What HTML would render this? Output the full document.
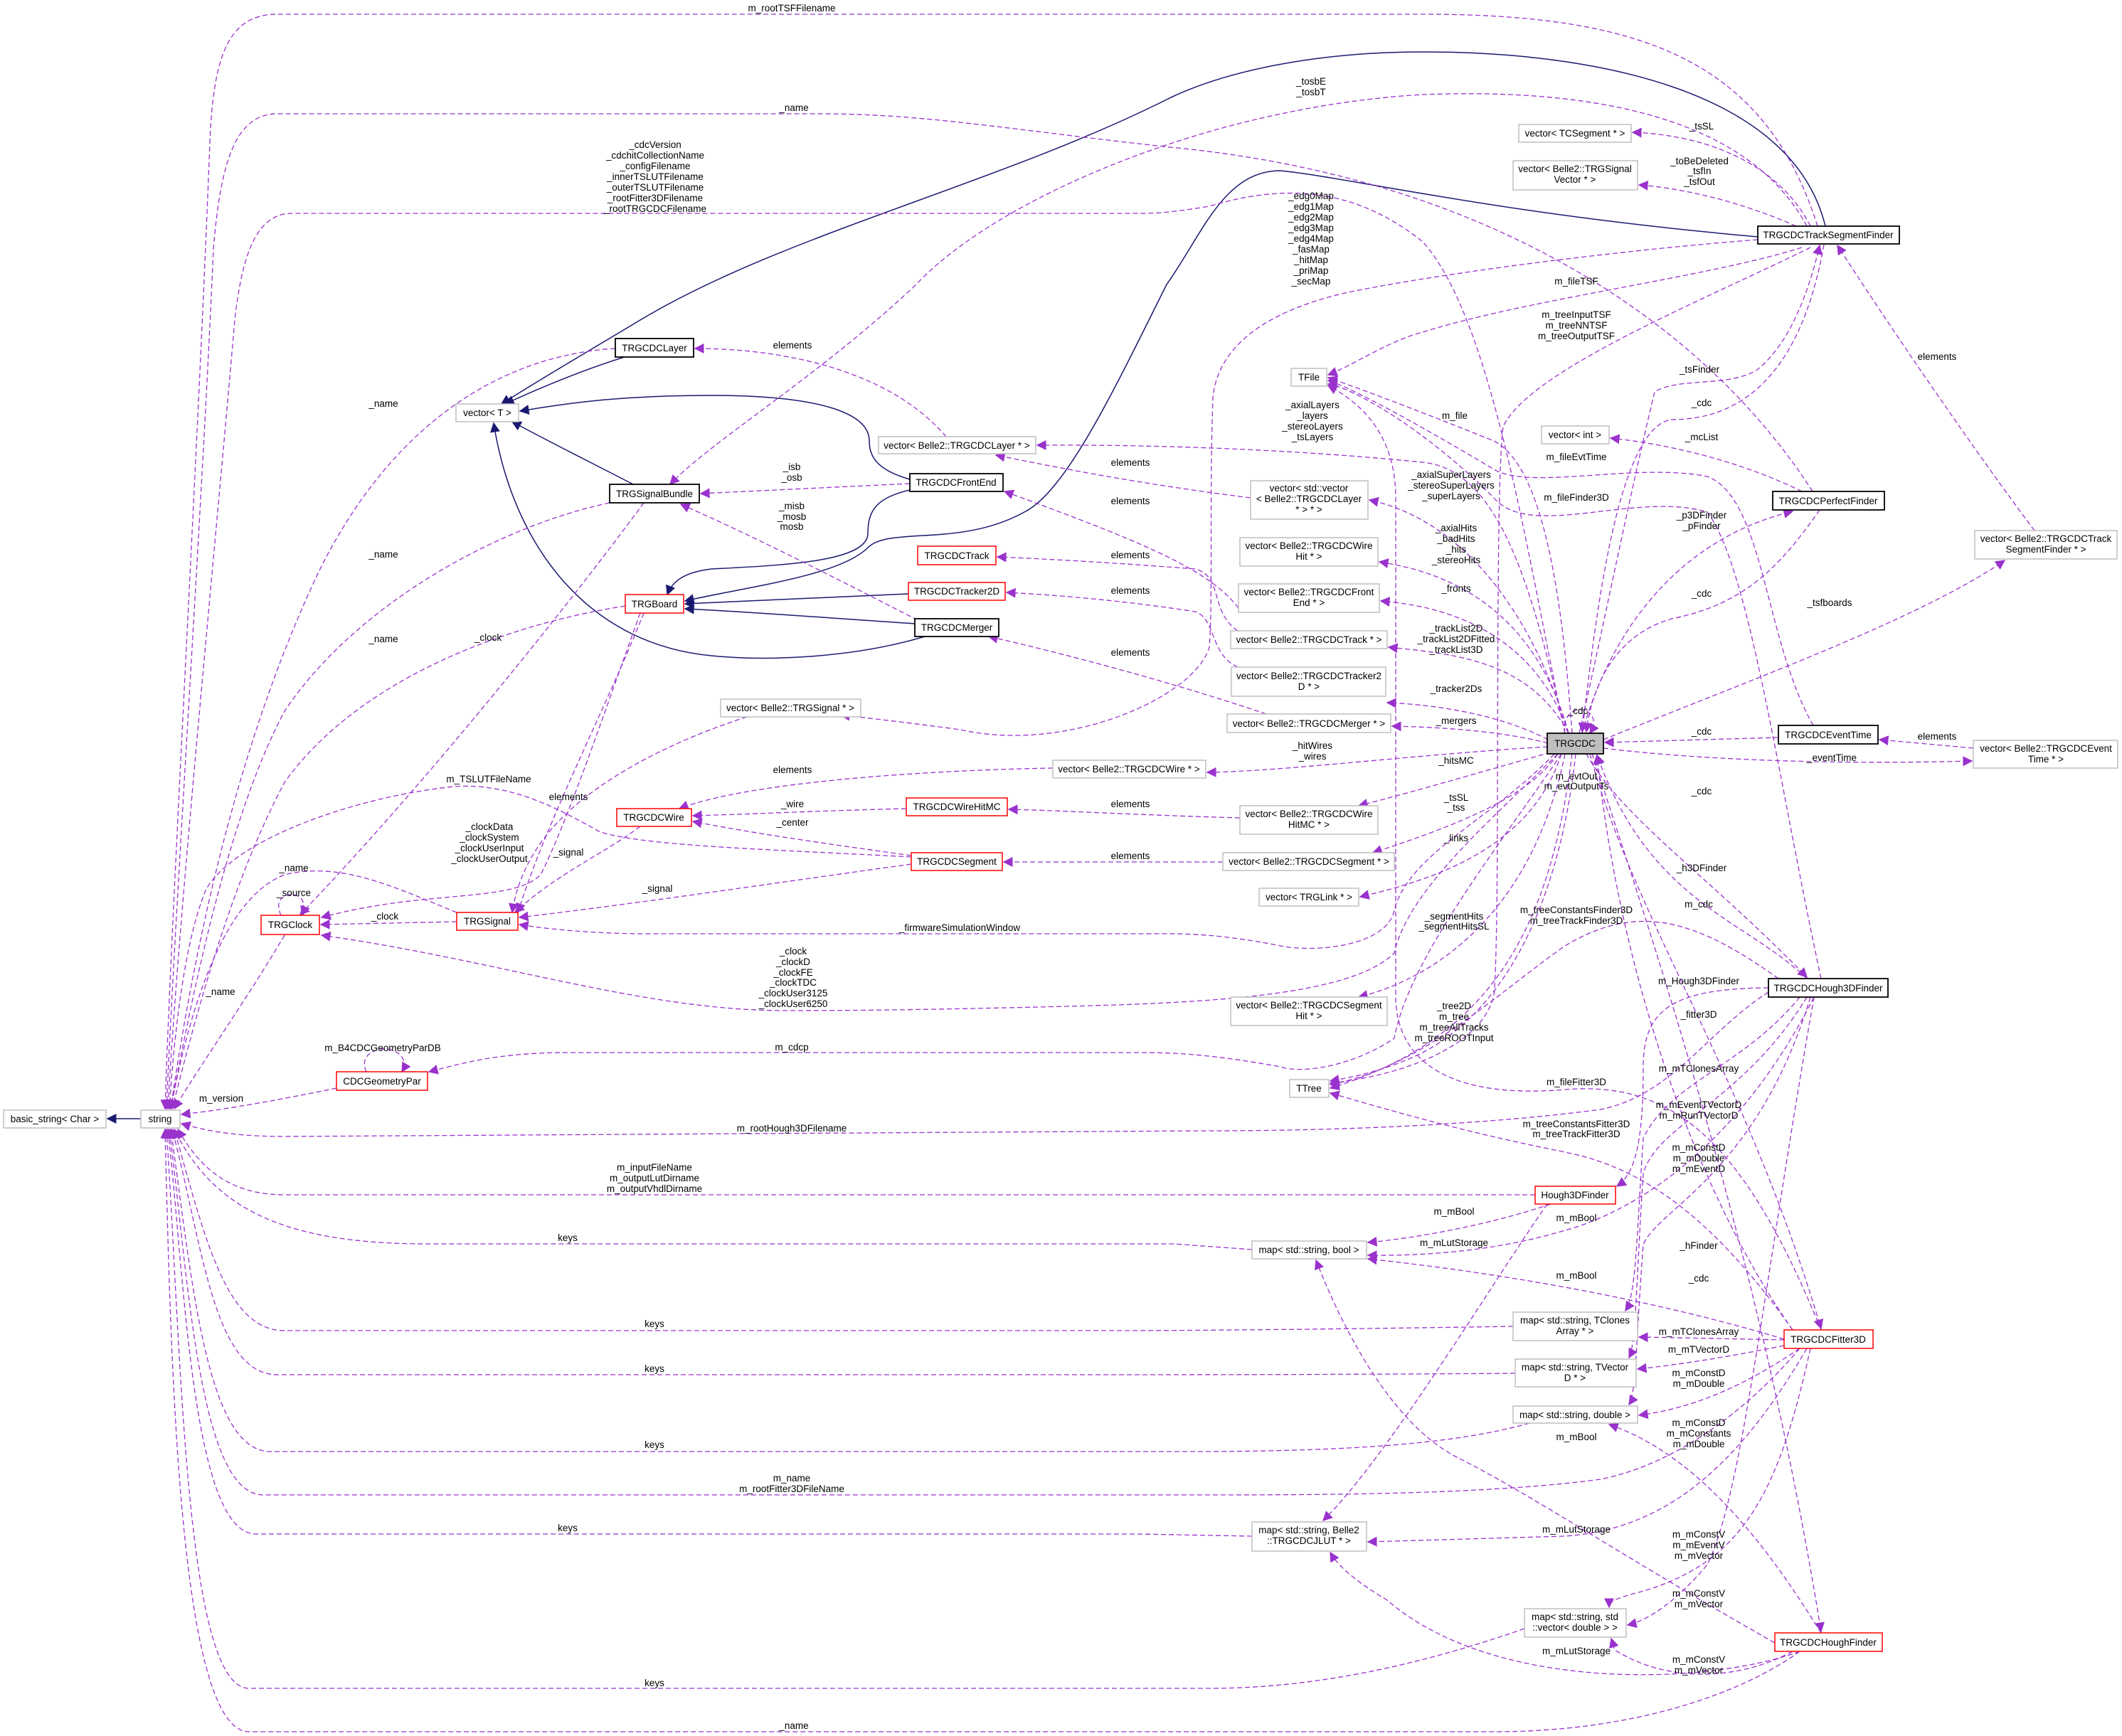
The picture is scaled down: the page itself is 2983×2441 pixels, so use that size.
<!DOCTYPE html>
<html><head><meta charset="utf-8"><style>
html,body{margin:0;padding:0;background:#fff}
svg{display:block}
text{font-family:"Liberation Sans",Arial,sans-serif;font-size:13.5px;fill:#000}
.e{fill:none;stroke:#9a32cd;stroke-width:1.3;stroke-dasharray:7,4}
.n{fill:none;stroke:#191970;stroke-width:1.5}
.g{fill:#fff;stroke:#bfbfbf;stroke-width:1.5}
.b{fill:#fff;stroke:#000;stroke-width:1.8}
.r{fill:#fff;stroke:#ff0000;stroke-width:1.5}
.l{text-anchor:middle}
</style></head><body>
<svg width="2983" height="2441" viewBox="0 0 2983 2441" xmlns="http://www.w3.org/2000/svg">
<defs>
<marker id="ap" viewBox="0 0 10 10" refX="9" refY="5" markerWidth="14" markerHeight="14" markerUnits="userSpaceOnUse" orient="auto"><path d="M0,0L10,5L0,10z" fill="#9a32cd"/></marker>
<marker id="an" viewBox="0 0 10 10" refX="9" refY="5" markerWidth="14" markerHeight="14" markerUnits="userSpaceOnUse" orient="auto"><path d="M0,0L10,5L0,10z" fill="#191970"/></marker>
</defs>

<!-- navy inheritance -->
<g class="n" marker-end="url(#an)">
<path d="M198,1573 L151,1573"/>
<path d="M878,502 C820,520 760,545 710,568"/>
<path d="M890,681 C830,650 770,620 720,593"/>
<path d="M1279,674 C1230,660 1222,640 1222,620 C1222,580 1150,556 1000,556 C850,556 770,572 731,578"/>
<path d="M1300,895 C1200,925 1080,930 1000,922 C820,905 720,760 694,595"/>
<path d="M2566,318 C2520,130 2250,73 2000,73 C1850,73 1720,100 1640,140 C1400,260 1100,330 900,450 C800,510 740,545 705,568"/>
<path d="M1279,689 C1230,700 1220,720 1220,750 C1220,790 1100,795 1000,800 C960,805 945,818 938,836"/>
<path d="M2471,333 C2100,300 1900,250 1800,240 C1720,240 1690,330 1640,400 C1570,540 1500,690 1440,720 C1350,770 1250,740 1220,770 C1180,810 1050,825 963,845"/>
<path d="M1277,835 C1150,840 1050,845 963,849"/>
<path d="M1286,877 C1150,868 1050,860 963,856"/>
</g>

<!-- purple dashed -->
<g class="e" marker-end="url(#ap)">
<path d="M2555,318 C2480,80 2300,20 2000,20 L390,20 C320,20 300,80 295,200 C280,600 240,1300 232,1559"/>
<path d="M2548,691 C2400,460 2100,250 1645,207 C1400,180 1300,160 1150,160 L390,160 C330,160 310,230 300,350 C285,700 245,1300 234,1559"/>
<path d="M2200,1031 C2150,800 2100,450 2000,340 C1900,260 1800,260 1700,290 C1640,300 1620,300 1600,300 L410,300 C360,300 340,360 330,450 C300,800 250,1300 236,1559"/>
<path d="M2540,318 C2450,150 2200,125 2000,133 C1700,150 1400,280 1288,400 C1150,530 1000,620 942,681"/>
<path d="M2471,337 C2300,350 2050,380 1900,410 C1760,440 1710,500 1705,560 C1700,700 1705,850 1700,910 C1680,980 1500,1060 1350,1026 C1270,1015 1220,1010 1182,1005"/>
<path d="M2533,348 C2400,390 2150,420 2000,467 C1950,480 1900,515 1867,527"/>
<path d="M2545,348 C2400,420 2150,520 2113,600 C2100,700 2110,1300 2100,1400 C2080,1480 1950,1515 1870,1523"/>
<path d="M2545,318 C2500,230 2400,190 2295,186"/>
<path d="M2525,318 C2450,285 2370,265 2304,260"/>
<path d="M2220,1031 C2250,900 2290,700 2326,551 C2360,530 2430,545 2470,520 C2520,480 2545,400 2558,345"/>
<path d="M2564,344 C2540,480 2480,590 2350,590 C2270,600 2240,900 2224,1029"/>
<path d="M2860,746 C2780,640 2650,450 2583,345"/>
<path d="M2254,1040 C2450,960 2700,870 2818,788"/>
<path d="M2533,691 C2450,650 2350,625 2264,616"/>
<path d="M2224,1031 C2260,900 2350,760 2520,719"/>
<path d="M2558,717 C2500,800 2450,850 2350,870 C2280,890 2240,950 2230,1029"/>
<path d="M2500,1037 L2256,1044"/>
<path d="M2774,1052 L2642,1040"/>
<path d="M2254,1052 C2400,1070 2600,1075 2772,1070"/>
<path d="M2549,1020 C2480,900 2480,700 2400,670 C2300,650 2150,690 2100,660 C2000,600 1900,545 1867,535"/>
<path d="M2210,1031 C2200,900 2180,660 2100,620 C2050,600 1950,560 1867,531"/>
<path d="M2560,1376 C2500,1100 2460,800 2400,720 C2300,690 2150,760 2100,700 C2000,600 1900,545 1867,540"/>
<path d="M2200,1031 C2150,800 2100,660 2000,650 C1800,630 1600,625 1458,626"/>
<path d="M2205,1031 C2150,850 2050,730 1925,703"/>
<path d="M1758,700 C1600,680 1500,660 1400,640"/>
<path d="M1330,614 C1250,520 1100,490 977,490"/>
<path d="M2205,1031 C2150,830 2000,800 1939,790"/>
<path d="M2205,1031 C2150,870 2000,850 1941,845"/>
<path d="M1741,855 C1700,800 1600,760 1412,691"/>
<path d="M2205,1031 C2150,930 2050,920 1952,910"/>
<path d="M1740,887 C1700,860 1720,810 1680,800 C1550,790 1450,785 1402,783"/>
<path d="M2176,1040 C2100,1000 2000,990 1950,988"/>
<path d="M1740,938 C1700,920 1710,870 1680,860 C1550,840 1450,835 1415,833"/>
<path d="M2176,1045 C2100,1025 2000,1022 1957,1021"/>
<path d="M1780,1004 C1650,960 1500,920 1390,895"/>
<path d="M2176,1050 C2000,1060 1800,1085 1697,1086"/>
<path d="M1480,1080 C1300,1083 1050,1100 955,1137"/>
<path d="M2180,1058 C2100,1080 2000,1110 1910,1133"/>
<path d="M1743,1150 C1600,1146 1500,1140 1418,1138"/>
<path d="M1274,1137 C1150,1140 1050,1145 974,1147"/>
<path d="M1281,1203 C1150,1185 1050,1170 974,1155"/>
<path d="M1719,1212 L1411,1212"/>
<path d="M2190,1060 C2150,1120 2050,1160 1930,1199"/>
<path d="M2195,1060 C2150,1200 2000,1240 1912,1261"/>
<path d="M2200,1060 C2150,1300 2000,1380 1910,1402"/>
<path d="M1281,1215 C1100,1240 900,1270 730,1290"/>
<path d="M900,1162 C850,1200 780,1230 724,1283"/>
<path d="M1050,1008 C950,1040 850,1090 790,1150 C740,1200 725,1250 720,1283"/>
<path d="M905,862 C850,1000 770,1150 728,1283"/>
<path d="M905,707 C800,850 600,1100 422,1286"/>
<path d="M900,862 C850,1000 800,1150 760,1230 C720,1270 600,1250 452,1290"/>
<path d="M642,1296 L451,1300"/>
<path d="M395,1287 C385,1265 400,1258 410,1258 C420,1258 432,1265 425,1287"/>
<path d="M400,1315 C350,1400 280,1500 245,1559"/>
<path d="M642,1283 C560,1250 480,1210 400,1230 C320,1260 270,1400 240,1559"/>
<path d="M1281,1205 C1100,1195 900,1190 842,1169 C790,1140 720,1100 638,1106 C500,1120 330,1180 290,1250 C260,1320 245,1450 238,1559"/>
<path d="M865,490 C700,500 550,600 450,800 C330,1050 270,1350 240,1559"/>
<path d="M857,707 C700,740 500,850 400,1000 C320,1150 270,1400 240,1559"/>
<path d="M879,852 C700,880 500,960 400,1100 C320,1250 270,1450 242,1559"/>
<path d="M2185,1060 C2100,1150 1980,1200 1960,1280 C1950,1330 1850,1340 1800,1330 C1700,1310 1650,1313 1600,1313 L900,1313 C820,1312 760,1305 730,1300"/>
<path d="M2190,1060 C2100,1150 1980,1250 1960,1340 C1900,1400 1700,1410 1500,1415 C1300,1420 1200,1421 1100,1421 C900,1420 700,1350 452,1315"/>
<path d="M2195,1060 C2100,1200 1980,1350 1960,1460 C1900,1500 1830,1510 1800,1500 C1700,1482 1650,1480 1600,1480 L800,1480 C700,1480 650,1495 603,1507"/>
<path d="M515,1507 C505,1485 525,1475 540,1475 C560,1475 575,1490 565,1507"/>
<path d="M473,1530 C400,1545 320,1560 255,1567"/>
<path d="M2486,1395 C2400,1450 2350,1540 2250,1560 C2100,1580 1900,1590 1700,1590 L400,1598 C330,1598 290,1590 255,1580"/>
<path d="M2158,1680 L400,1680 C320,1680 280,1640 250,1588"/>
<path d="M1760,1757 L1650,1749 L600,1749 C400,1749 300,1700 245,1588"/>
<path d="M2127,1865 C2000,1867 1800,1870 1600,1871 L400,1871 C320,1871 290,1750 245,1588"/>
<path d="M2130,1931 C2000,1932 1800,1933 1600,1933 L390,1933 C300,1933 285,1750 242,1588"/>
<path d="M2150,2001 C2050,2030 1900,2040 1700,2041 L380,2041 C290,2041 270,1800 240,1588"/>
<path d="M2530,1896 C2450,1990 2350,2060 2250,2080 C2100,2100 1900,2102 1700,2102 L370,2102 C280,2102 265,1800 238,1588"/>
<path d="M1760,2160 L1600,2157 L360,2157 C270,2157 260,1800 236,1588"/>
<path d="M2143,2290 C2000,2340 1850,2374 1700,2374 L350,2374 C260,2374 255,1900 234,1588"/>
<path d="M2530,2322 C2450,2380 2300,2435 2100,2435 L350,2435 C250,2435 240,1900 232,1588"/>
<path d="M2230,1060 C2280,1150 2400,1230 2540,1374"/>
<path d="M2540,1376 C2450,1290 2320,1270 2245,1062"/>
<path d="M2486,1389 C2350,1390 2310,1420 2310,1500 C2310,1600 2300,1650 2273,1668"/>
<path d="M2235,1060 C2300,1300 2450,1500 2560,1868"/>
<path d="M2530,1402 C2450,1500 2350,1520 2310,1600 C2300,1750 2300,1820 2285,1843"/>
<path d="M2560,1870 C2450,1600 2350,1520 2200,1532 C2050,1545 1962,1500 1962,1400 L1962,700 C1962,600 1900,560 1867,542"/>
<path d="M2540,1402 C2450,1550 2330,1580 2310,1650 C2300,1800 2300,1890 2290,1909"/>
<path d="M2545,1402 C2470,1650 2330,1700 2310,1750 C2300,1880 2300,1960 2290,1975"/>
<path d="M2550,1402 C2450,1600 2310,1700 2200,1730 C2100,1760 2000,1766 1923,1765"/>
<path d="M2180,1693 C2100,1720 2000,1740 1923,1747"/>
<path d="M2175,1693 C2100,1800 1950,2050 1860,2138"/>
<path d="M2238,1060 C2350,1400 2480,1800 2560,2294"/>
<path d="M2508,1883 C2400,1850 2200,1800 1923,1770"/>
<path d="M2520,1870 C2400,1700 2280,1400 2245,1062"/>
<path d="M2508,1884 L2304,1880"/>
<path d="M2508,1892 C2420,1910 2350,1920 2302,1925"/>
<path d="M2530,1896 C2450,1950 2380,1980 2304,1990"/>
<path d="M2495,2310 C2300,2200 2150,2100 2050,2050 C1950,2000 1880,1850 1850,1772"/>
<path d="M2560,2296 C2500,2200 2400,2050 2262,2003"/>
<path d="M2540,1896 C2450,2050 2350,2150 2200,2160 L1923,2168"/>
<path d="M2545,1896 C2500,2100 2450,2200 2300,2240 C2270,2248 2262,2252 2262,2260"/>
<path d="M2550,1402 C2480,1800 2450,2100 2400,2200 C2350,2260 2310,2280 2288,2285"/>
<path d="M2530,2322 C2400,2370 2100,2380 1950,2250 C1900,2220 1880,2200 1870,2183"/>
<path d="M2520,2322 C2450,2360 2350,2370 2270,2320 L2265,2304"/>
<path d="M2500,1376 C2380,1290 2300,1270 2200,1330 C2100,1400 2000,1500 1870,1525"/>
<path d="M2520,1870 C2400,1700 2300,1640 2200,1620 C2050,1590 1950,1560 1870,1537"/>
<path d="M2210,1060 C2180,1300 2100,1460 1870,1530"/>
<path d="M2215,1060 C2200,1200 2150,1400 2000,1480 C1950,1505 1900,1515 1870,1520"/>
<path d="M1279,680 L985,694"/>
<path d="M1290,872 C1150,800 1050,750 957,709"/>
<path d="M2200,1031 C2195,1005 2215,995 2225,998 C2240,1002 2245,1015 2235,1031"/>
</g>

<!-- nodes -->
<g>
<rect class="g" x="5" y="1561" width="144" height="25"/><text class="l" x="77" y="1578">basic_string&lt; Char &gt;</text>
<rect class="g" x="198" y="1561" width="55" height="25"/><text class="l" x="225" y="1578">string</text>
<rect class="g" x="641" y="568" width="88" height="25"/><text class="l" x="685" y="585">vector&lt; T &gt;</text>
<rect class="b" x="865" y="476" width="110" height="26"/><text class="l" x="920" y="494">TRGCDCLayer</text>
<rect class="b" x="857" y="681" width="126" height="26"/><text class="l" x="920" y="699">TRGSignalBundle</text>
<rect class="r" x="879" y="836" width="82" height="26"/><text class="l" x="920" y="854">TRGBoard</text>
<rect class="r" x="867" y="1137" width="105" height="25"/><text class="l" x="919" y="1154">TRGCDCWire</text>
<rect class="r" x="642" y="1283" width="86" height="25"/><text class="l" x="685" y="1300">TRGSignal</text>
<rect class="r" x="367" y="1287" width="82" height="27"/><text class="l" x="408" y="1305">TRGClock</text>
<rect class="r" x="473" y="1507" width="128" height="26"/><text class="l" x="537" y="1525">CDCGeometryPar</text>
<rect class="g" x="1235" y="614" width="221" height="24"/><text class="l" x="1345" y="631">vector&lt; Belle2::TRGCDCLayer * &gt;</text>
<rect class="b" x="1279" y="666" width="131" height="25"/><text class="l" x="1344" y="683">TRGCDCFrontEnd</text>
<rect class="r" x="1290" y="768" width="110" height="26"/><text class="l" x="1345" y="786">TRGCDCTrack</text>
<rect class="r" x="1277" y="819" width="136" height="25"/><text class="l" x="1345" y="836">TRGCDCTracker2D</text>
<rect class="b" x="1286" y="870" width="118" height="25"/><text class="l" x="1345" y="887">TRGCDCMerger</text>
<rect class="g" x="1013" y="983" width="197" height="25"/><text class="l" x="1111" y="1000">vector&lt; Belle2::TRGSignal * &gt;</text>
<rect class="g" x="1815" y="518" width="50" height="25"/><text class="l" x="1840" y="535">TFile</text>
<rect class="g" x="1758" y="676" width="165" height="54"/><text class="l" x="1840" y="691">vector&lt; std::vector</text><text class="l" x="1840" y="706">&lt; Belle2::TRGCDCLayer</text><text class="l" x="1840" y="721"> * &gt; * &gt;</text>
<rect class="g" x="1743" y="756" width="194" height="40"/><text class="l" x="1840" y="772">vector&lt; Belle2::TRGCDCWire</text><text class="l" x="1840" y="787">Hit * &gt;</text>
<rect class="g" x="1741" y="821" width="198" height="40"/><text class="l" x="1840" y="837">vector&lt; Belle2::TRGCDCFront</text><text class="l" x="1840" y="852">End * &gt;</text>
<rect class="g" x="1730" y="887" width="220" height="25"/><text class="l" x="1840" y="904">vector&lt; Belle2::TRGCDCTrack * &gt;</text>
<rect class="g" x="1731" y="938" width="217" height="41"/><text class="l" x="1840" y="955">vector&lt; Belle2::TRGCDCTracker2</text><text class="l" x="1840" y="970">D * &gt;</text>
<rect class="g" x="1725" y="1004" width="230" height="26"/><text class="l" x="1840" y="1022">vector&lt; Belle2::TRGCDCMerger * &gt;</text>
<rect class="g" x="1480" y="1069" width="215" height="25"/><text class="l" x="1587" y="1086">vector&lt; Belle2::TRGCDCWire * &gt;</text>
<rect class="r" x="1274" y="1122" width="142" height="25"/><text class="l" x="1345" y="1139">TRGCDCWireHitMC</text>
<rect class="g" x="1743" y="1133" width="194" height="40"/><text class="l" x="1840" y="1149">vector&lt; Belle2::TRGCDCWire</text><text class="l" x="1840" y="1164">HitMC * &gt;</text>
<rect class="r" x="1281" y="1199" width="128" height="25"/><text class="l" x="1345" y="1216">TRGCDCSegment</text>
<rect class="g" x="1719" y="1199" width="241" height="25"/><text class="l" x="1840" y="1216">vector&lt; Belle2::TRGCDCSegment * &gt;</text>
<rect class="g" x="1770" y="1249" width="140" height="25"/><text class="l" x="1840" y="1266">vector&lt; TRGLink * &gt;</text>
<rect class="g" x="1730" y="1402" width="220" height="40"/><text class="l" x="1840" y="1418">vector&lt; Belle2::TRGCDCSegment</text><text class="l" x="1840" y="1433">Hit * &gt;</text>
<rect class="g" x="1813" y="1518" width="55" height="25"/><text class="l" x="1840" y="1535">TTree</text>
<rect class="r" x="2158" y="1668" width="113" height="25"/><text class="l" x="2214" y="1685">Hough3DFinder</text>
<rect class="g" x="1760" y="1745" width="161" height="25"/><text class="l" x="1840" y="1762">map&lt; std::string, bool &gt;</text>
<rect class="g" x="2127" y="1845" width="175" height="40"/><text class="l" x="2214" y="1861">map&lt; std::string, TClones</text><text class="l" x="2214" y="1876">Array * &gt;</text>
<rect class="g" x="2130" y="1911" width="170" height="39"/><text class="l" x="2214" y="1927">map&lt; std::string, TVector</text><text class="l" x="2214" y="1942">D * &gt;</text>
<rect class="g" x="2127" y="1977" width="175" height="24"/><text class="l" x="2214" y="1994">map&lt; std::string, double &gt;</text>
<rect class="g" x="1760" y="2140" width="161" height="41"/><text class="l" x="1840" y="2156">map&lt; std::string, Belle2</text><text class="l" x="1840" y="2171">::TRGCDCJLUT * &gt;</text>
<rect class="g" x="2143" y="2262" width="143" height="40"/><text class="l" x="2214" y="2278">map&lt; std::string, std</text><text class="l" x="2214" y="2293">::vector&lt; double &gt; &gt;</text>
<rect class="b" x="2486" y="1376" width="168" height="26"/><text class="l" x="2570" y="1394">TRGCDCHough3DFinder</text>
<rect class="r" x="2508" y="1870" width="125" height="26"/><text class="l" x="2570" y="1888">TRGCDCFitter3D</text>
<rect class="r" x="2495" y="2296" width="151" height="26"/><text class="l" x="2570" y="2314">TRGCDCHoughFinder</text>
<rect class="g" x="2135" y="175" width="158" height="25"/><text class="l" x="2214" y="192">vector&lt; TCSegment * &gt;</text>
<rect class="g" x="2127" y="226" width="175" height="41"/><text class="l" x="2214" y="242">vector&lt; Belle2::TRGSignal</text><text class="l" x="2214" y="257">Vector * &gt;</text>
<rect class="b" x="2471" y="318" width="199" height="25"/><text class="l" x="2570" y="335">TRGCDCTrackSegmentFinder</text>
<rect class="g" x="2167" y="599" width="95" height="25"/><text class="l" x="2214" y="616">vector&lt; int &gt;</text>
<rect class="b" x="2492" y="691" width="157" height="26"/><text class="l" x="2570" y="709">TRGCDCPerfectFinder</text>
<rect class="g" x="2776" y="746" width="200" height="40"/><text class="l" x="2876" y="762">vector&lt; Belle2::TRGCDCTrack</text><text class="l" x="2876" y="777">SegmentFinder * &gt;</text>
<rect x="2175" y="1031" width="79" height="29" fill="#bfbfbf" stroke="#000" stroke-width="1.8"/><text class="l" x="2214" y="1050">TRGCDC</text>
<rect class="b" x="2500" y="1020" width="140" height="26"/><text class="l" x="2570" y="1038">TRGCDCEventTime</text>
<rect class="g" x="2774" y="1041" width="203" height="39"/><text class="l" x="2876" y="1057">vector&lt; Belle2::TRGCDCEvent</text><text class="l" x="2876" y="1072">Time * &gt;</text>
</g>

<!-- edge labels -->
<g class="l">
<text x="1113" y="16" text-anchor="middle">m_rootTSFFilename</text>
<text x="1116" y="156" text-anchor="middle">_name</text>
<text text-anchor="middle"><tspan x="921" y="208">_cdcVersion</tspan><tspan x="921" y="223">_cdchitCollectionName</tspan><tspan x="921" y="238">_configFilename</tspan><tspan x="921" y="253">_innerTSLUTFilename</tspan><tspan x="921" y="268">_outerTSLUTFilename</tspan><tspan x="921" y="283">_rootFitter3DFilename</tspan><tspan x="921" y="298">_rootTRGCDCFilename</tspan></text>
<text text-anchor="middle"><tspan x="1843" y="119">_tosbE</tspan><tspan x="1843" y="134">_tosbT</tspan></text>
<text text-anchor="middle"><tspan x="1843" y="280">_edg0Map</tspan><tspan x="1843" y="295">_edg1Map</tspan><tspan x="1843" y="310">_edg2Map</tspan><tspan x="1843" y="325">_edg3Map</tspan><tspan x="1843" y="340">_edg4Map</tspan><tspan x="1843" y="355">_fasMap</tspan><tspan x="1843" y="370">_hitMap</tspan><tspan x="1843" y="385">_priMap</tspan><tspan x="1843" y="400">_secMap</tspan></text>
<text x="2392" y="182" text-anchor="middle">_tsSL</text>
<text text-anchor="middle"><tspan x="2389" y="231">_toBeDeleted</tspan><tspan x="2389" y="245">_tsfIn</tspan><tspan x="2389" y="260">_tsfOut</tspan></text>
<text x="2216" y="400" text-anchor="middle">m_fileTSF</text>
<text text-anchor="middle"><tspan x="2216" y="447">m_treeInputTSF</tspan><tspan x="2216" y="462">m_treeNNTSF</tspan><tspan x="2216" y="477">m_treeOutputTSF</tspan></text>
<text x="2389" y="524" text-anchor="middle">_tsFinder</text>
<text x="2723" y="506" text-anchor="middle">elements</text>
<text x="2392" y="571" text-anchor="middle">_cdc</text>
<text x="2045" y="589" text-anchor="middle">m_file</text>
<text x="2392" y="619" text-anchor="middle">_mcList</text>
<text x="2216" y="647" text-anchor="middle">m_fileEvtTime</text>
<text text-anchor="middle"><tspan x="2040" y="672">_axialSuperLayers</tspan><tspan x="2040" y="687">_stereoSuperLayers</tspan><tspan x="2040" y="702">_superLayers</tspan></text>
<text x="2216" y="704" text-anchor="middle">m_fileFinder3D</text>
<text text-anchor="middle"><tspan x="2392" y="729">_p3DFinder</tspan><tspan x="2392" y="744">_pFinder</tspan></text>
<text text-anchor="middle"><tspan x="2047" y="747">_axialHits</tspan><tspan x="2047" y="762">_badHits</tspan><tspan x="2047" y="777">_hits</tspan><tspan x="2047" y="792">_stereoHits</tspan></text>
<text x="2047" y="832" text-anchor="middle">_fronts</text>
<text x="2392" y="839" text-anchor="middle">_cdc</text>
<text x="2572" y="852" text-anchor="middle">_tsfboards</text>
<text text-anchor="middle"><tspan x="2047" y="888">_trackList2D</tspan><tspan x="2047" y="903">_trackList2DFitted</tspan><tspan x="2047" y="918">_trackList3D</tspan></text>
<text x="2047" y="973" text-anchor="middle">_tracker2Ds</text>
<text x="2218" y="1004" text-anchor="middle">_cdc</text>
<text x="2047" y="1018" text-anchor="middle">_mergers</text>
<text x="2392" y="1033" text-anchor="middle">_cdc</text>
<text x="2723" y="1040" text-anchor="middle">elements</text>
<text x="2575" y="1070" text-anchor="middle">_eventTime</text>
<text x="2047" y="1074" text-anchor="middle">_hitsMC</text>
<text text-anchor="middle"><tspan x="2216" y="1096">m_evtOut</tspan><tspan x="2216" y="1110">m_evtOutputTs</tspan></text>
<text text-anchor="middle"><tspan x="2047" y="1126">_tsSL</tspan><tspan x="2047" y="1140">_tss</tspan></text>
<text x="2392" y="1117" text-anchor="middle">_cdc</text>
<text x="2047" y="1183" text-anchor="middle">_links</text>
<text text-anchor="middle"><tspan x="1845" y="574">_axialLayers</tspan><tspan x="1845" y="589">_layers</tspan><tspan x="1845" y="604">_stereoLayers</tspan><tspan x="1845" y="619">_tsLayers</tspan></text>
<text text-anchor="middle"><tspan x="1845" y="1053">_hitWires</tspan><tspan x="1845" y="1068">_wires</tspan></text>
<text x="1114" y="490" text-anchor="middle">elements</text>
<text text-anchor="middle"><tspan x="1113" y="661">_isb</tspan><tspan x="1113" y="676">_osb</tspan></text>
<text text-anchor="middle"><tspan x="1113" y="716">_misb</tspan><tspan x="1113" y="731">_mosb</tspan><tspan x="1113" y="745">mosb</tspan></text>
<text x="1589" y="655" text-anchor="middle">elements</text>
<text x="1589" y="709" text-anchor="middle">elements</text>
<text x="1589" y="785" text-anchor="middle">elements</text>
<text x="1589" y="835" text-anchor="middle">elements</text>
<text x="1589" y="922" text-anchor="middle">elements</text>
<text x="1114" y="1087" text-anchor="middle">elements</text>
<text x="1114" y="1135" text-anchor="middle">_wire</text>
<text x="1114" y="1161" text-anchor="middle">_center</text>
<text x="1589" y="1135" text-anchor="middle">elements</text>
<text x="1589" y="1208" text-anchor="middle">elements</text>
<text x="539" y="572" text-anchor="middle">_name</text>
<text x="539" y="784" text-anchor="middle">_name</text>
<text x="539" y="903" text-anchor="middle">_name</text>
<text x="686" y="901" text-anchor="middle">_clock</text>
<text x="687" y="1100" text-anchor="middle">m_TSLUTFileName</text>
<text x="799" y="1125" text-anchor="middle">elements</text>
<text text-anchor="middle"><tspan x="688" y="1167">_clockData</tspan><tspan x="688" y="1182">_clockSystem</tspan><tspan x="688" y="1197">_clockUserInput</tspan><tspan x="688" y="1212">_clockUserOutput</tspan></text>
<text x="799" y="1203" text-anchor="middle">_signal</text>
<text x="413" y="1225" text-anchor="middle">_name</text>
<text x="413" y="1260" text-anchor="middle">_source</text>
<text x="924" y="1254" text-anchor="middle">_signal</text>
<text x="541" y="1293" text-anchor="middle">_clock</text>
<text x="1349" y="1309" text-anchor="middle">_firmwareSimulationWindow</text>
<text text-anchor="middle"><tspan x="1115" y="1342">_clock</tspan><tspan x="1115" y="1357">_clockD</tspan><tspan x="1115" y="1372">_clockFE</tspan><tspan x="1115" y="1386">_clockTDC</tspan><tspan x="1115" y="1401">_clockUser3125</tspan><tspan x="1115" y="1416">_clockUser6250</tspan></text>
<text x="310" y="1399" text-anchor="middle">_name</text>
<text x="538" y="1478" text-anchor="middle">m_B4CDCGeometryParDB</text>
<text x="1113" y="1477" text-anchor="middle">m_cdcp</text>
<text x="311" y="1549" text-anchor="middle">m_version</text>
<text x="1113" y="1591" text-anchor="middle">m_rootHough3DFilename</text>
<text text-anchor="middle"><tspan x="920" y="1646">m_inputFileName</tspan><tspan x="920" y="1661">m_outputLutDirname</tspan><tspan x="920" y="1676">m_outputVhdlDirname</tspan></text>
<text x="798" y="1745" text-anchor="middle">keys</text>
<text x="920" y="1866" text-anchor="middle">keys</text>
<text x="920" y="1929" text-anchor="middle">keys</text>
<text x="920" y="2036" text-anchor="middle">keys</text>
<text text-anchor="middle"><tspan x="1113" y="2083">m_name</tspan><tspan x="1113" y="2098">m_rootFitter3DFileName</tspan></text>
<text x="798" y="2153" text-anchor="middle">keys</text>
<text x="920" y="2371" text-anchor="middle">keys</text>
<text x="1116" y="2431" text-anchor="middle">_name</text>
<text x="2392" y="1225" text-anchor="middle">_h3DFinder</text>
<text x="2388" y="1276" text-anchor="middle">m_cdc</text>
<text text-anchor="middle"><tspan x="2216" y="1284">m_treeConstantsFinder3D</tspan><tspan x="2216" y="1299">m_treeTrackFinder3D</tspan></text>
<text text-anchor="middle"><tspan x="2044" y="1293">_segmentHits</tspan><tspan x="2044" y="1307">_segmentHitsSL</tspan></text>
<text x="2388" y="1384" text-anchor="middle">m_Hough3DFinder</text>
<text x="2388" y="1431" text-anchor="middle">_fitter3D</text>
<text text-anchor="middle"><tspan x="2044" y="1419">_tree2D</tspan><tspan x="2044" y="1434">m_tree</tspan><tspan x="2044" y="1449">m_treeAllTracks</tspan><tspan x="2044" y="1464">m_treeROOTInput</tspan></text>
<text x="2388" y="1507" text-anchor="middle">m_mTClonesArray</text>
<text x="2216" y="1526" text-anchor="middle">m_fileFitter3D</text>
<text text-anchor="middle"><tspan x="2388" y="1558">m_mEventTVectorD</tspan><tspan x="2388" y="1573">m_mRunTVectorD</tspan></text>
<text text-anchor="middle"><tspan x="2216" y="1585">m_treeConstantsFitter3D</tspan><tspan x="2216" y="1599">m_treeTrackFitter3D</tspan></text>
<text text-anchor="middle"><tspan x="2388" y="1618">m_mConstD</tspan><tspan x="2388" y="1633">m_mDouble</tspan><tspan x="2388" y="1648">m_mEventD</tspan></text>
<text x="2044" y="1708" text-anchor="middle">m_mBool</text>
<text x="2216" y="1717" text-anchor="middle">m_mBool</text>
<text x="2044" y="1752" text-anchor="middle">m_mLutStorage</text>
<text x="2388" y="1756" text-anchor="middle">_hFinder</text>
<text x="2216" y="1798" text-anchor="middle">m_mBool</text>
<text x="2388" y="1802" text-anchor="middle">_cdc</text>
<text x="2388" y="1877" text-anchor="middle">m_mTClonesArray</text>
<text x="2388" y="1902" text-anchor="middle">m_mTVectorD</text>
<text text-anchor="middle"><tspan x="2388" y="1935">m_mConstD</tspan><tspan x="2388" y="1950">m_mDouble</tspan></text>
<text text-anchor="middle"><tspan x="2388" y="2005">m_mConstD</tspan><tspan x="2388" y="2020">m_mConstants</tspan><tspan x="2388" y="2035">m_mDouble</tspan></text>
<text x="2216" y="2025" text-anchor="middle">m_mBool</text>
<text x="2216" y="2155" text-anchor="middle">m_mLutStorage</text>
<text text-anchor="middle"><tspan x="2388" y="2162">m_mConstV</tspan><tspan x="2388" y="2177">m_mEventV</tspan><tspan x="2388" y="2192">m_mVector</tspan></text>
<text text-anchor="middle"><tspan x="2388" y="2245">m_mConstV</tspan><tspan x="2388" y="2260">m_mVector</tspan></text>
<text x="2216" y="2326" text-anchor="middle">m_mLutStorage</text>
<text text-anchor="middle"><tspan x="2388" y="2338">m_mConstV</tspan><tspan x="2388" y="2353">m_mVector</tspan></text>
</g>
</svg>
</body></html>
